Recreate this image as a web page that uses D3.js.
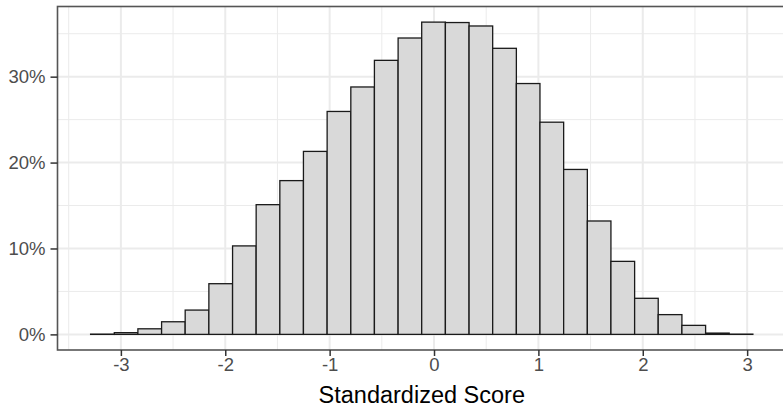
<!DOCTYPE html>
<html>
<head>
<meta charset="utf-8">
<script src="https://cdn.jsdelivr.net/npm/d3@7"></script>
<style>
  html, body { margin: 0; padding: 0; background: #fff; }
  svg { display: block; font-family: "Liberation Sans", Arial, sans-serif; }
</style>
</head>
<body>
<svg id="chart" width="783" height="407"></svg>
<script>
// histogram bin edges (28 bins) and share of observations per bin
const binEdges = [
  -3.290, -3.063, -2.837, -2.610, -2.384, -2.157, -1.930, -1.704, -1.477, -1.251,
  -1.024, -0.797, -0.571, -0.344, -0.118, 0.109, 0.336, 0.562, 0.789, 1.015,
  1.242, 1.469, 1.695, 1.922, 2.148, 2.375, 2.602, 2.828, 3.055
];
const binShare = [
  0.0003, 0.0020, 0.0065, 0.0147, 0.0283, 0.0590, 0.1030, 0.1510, 0.1790, 0.2130,
  0.2595, 0.2880, 0.3190, 0.3450, 0.3635, 0.3630, 0.3590, 0.3330, 0.2920, 0.2470,
  0.1920, 0.1320, 0.0850, 0.0420, 0.0230, 0.0105, 0.0015, 0.0003
];
const xTicks = [-3, -2, -1, 0, 1, 2, 3];
const xMinor = [-3.5, -2.5, -1.5, -0.5, 0.5, 1.5, 2.5];
const yTicks = [0, 0.1, 0.2, 0.3];
const yMinor = [0.05, 0.15, 0.25, 0.35];
const xTitle = 'Standardized Score';

const bins = binShare.map((v, i) => ({ x0: binEdges[i], x1: binEdges[i + 1], v }));

const panel = { left: 57.5, right: 786, top: 6.5, bottom: 350 };
const svg = d3.select('#chart');

// ggplot-style 5% expansion on both axes
const xLo = binEdges[0], xHi = binEdges[binEdges.length - 1];
const xPad = (xHi - xLo) * 0.05;
const yMax = d3.max(binShare), yPad = yMax * 0.05;

const x = d3.scaleLinear().domain([xLo - xPad, xHi + xPad]).range([panel.left, panel.right]);
const y = d3.scaleLinear().domain([-yPad, yMax + yPad]).range([panel.bottom, panel.top]);

const grid = svg.append('g');
grid.selectAll('.vminor').data(xMinor).join('line')
  .attr('x1', d => x(d)).attr('x2', d => x(d))
  .attr('y1', panel.top).attr('y2', panel.bottom)
  .attr('stroke', '#ebebeb').attr('stroke-width', 1);
grid.selectAll('.hminor').data(yMinor).join('line')
  .attr('x1', panel.left).attr('x2', panel.right)
  .attr('y1', d => y(d)).attr('y2', d => y(d))
  .attr('stroke', '#ebebeb').attr('stroke-width', 1);
grid.selectAll('.vmajor').data(xTicks).join('line')
  .attr('x1', d => x(d)).attr('x2', d => x(d))
  .attr('y1', panel.top).attr('y2', panel.bottom)
  .attr('stroke', '#ebebeb').attr('stroke-width', 2);
grid.selectAll('.hmajor').data(yTicks).join('line')
  .attr('x1', panel.left).attr('x2', panel.right)
  .attr('y1', d => y(d)).attr('y2', d => y(d))
  .attr('stroke', '#ebebeb').attr('stroke-width', 2);

svg.append('g').selectAll('rect').data(bins).join('rect')
  .attr('x', d => x(d.x0))
  .attr('width', d => x(d.x1) - x(d.x0))
  .attr('y', d => y(d.v))
  .attr('height', d => y(0) - y(d.v))
  .attr('fill', '#d9d9d9')
  .attr('stroke', '#1a1a1a')
  .attr('stroke-width', 1.3);

// panel border
svg.append('rect')
  .attr('x', panel.left).attr('y', panel.top)
  .attr('width', panel.right - panel.left).attr('height', panel.bottom - panel.top)
  .attr('fill', 'none').attr('stroke', '#555').attr('stroke-width', 1.6);

const yAxis = svg.append('g')
  .attr('transform', `translate(${panel.left},0)`)
  .call(d3.axisLeft(y).tickValues(yTicks).tickFormat(d3.format('.0%')).tickSize(7).tickPadding(5));
const xAxis = svg.append('g')
  .attr('transform', `translate(0,${panel.bottom})`)
  .call(d3.axisBottom(x).tickValues(xTicks).tickFormat(d => d.toString()).tickSize(6).tickPadding(2));

[yAxis, xAxis].forEach(a => {
  a.select('.domain').remove();
  a.selectAll('.tick line').attr('stroke', '#333').attr('stroke-width', 1.5);
  a.selectAll('.tick text')
    .attr('fill', '#4d4d4d')
    .attr('font-size', '18.5px')
    .attr('font-family', '"Liberation Sans", Arial, sans-serif');
});

svg.append('text')
  .attr('x', (panel.left + panel.right) / 2)
  .attr('y', 403)
  .attr('text-anchor', 'middle')
  .attr('font-size', '23.5px')
  .attr('fill', '#000')
  .text(xTitle);
</script>
</body>
</html>
